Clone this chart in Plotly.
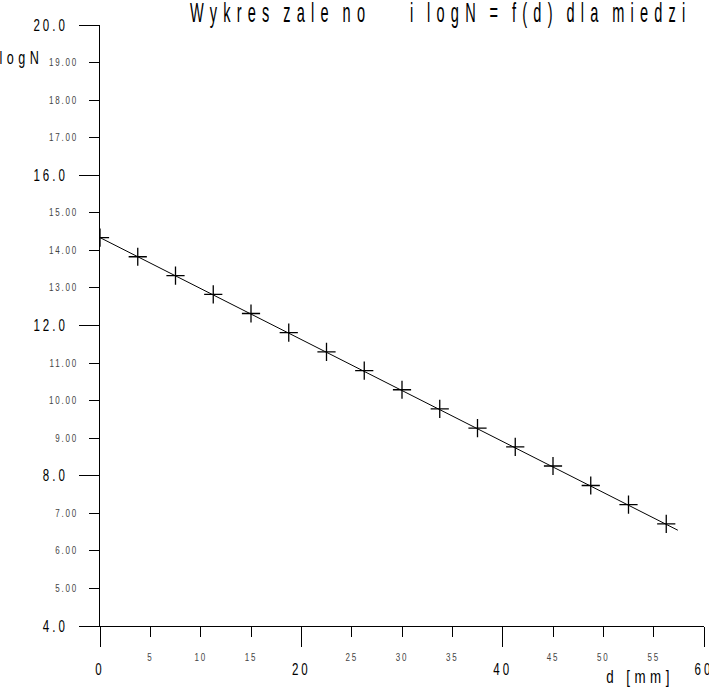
import plotly.graph_objects as go

# measured points: d [mm] vs log N
d_mm = [0, 3.75, 7.5, 11.25, 15, 18.75, 22.5, 26.25, 30, 33.75, 37.5, 41.25, 45, 48.75, 52.5, 56.25]
log_n = [14.34, 13.83, 13.33, 12.83, 12.32, 11.81, 11.30, 10.80, 10.29, 9.78, 9.27, 8.77, 8.26, 7.74, 7.23, 6.72]

# fitted straight line
fit_d = [0, 57.4]
fit_log_n = [14.34, 6.55]

x_major = [0, 20, 40, 60]
x_minor = [5, 10, 15, 25, 30, 35, 45, 50, 55]
y_major = [4, 8, 12, 16, 20]
y_minor = [5, 6, 7, 9, 10, 11, 13, 14, 15, 17, 18, 19]

title_text = "Wykres zale no     i logN = f(d) dla miedzi"

FONT = "Liberation Sans, Arial, sans-serif"

fig = go.Figure()

fig.add_trace(go.Scatter(
    x=fit_d, y=fit_log_n,
    mode="lines",
    line=dict(color="black", width=1),
    xaxis="x", yaxis="y",
    showlegend=False,
))

fig.add_trace(go.Scatter(
    x=d_mm, y=log_n,
    mode="markers",
    marker=dict(symbol="cross-thin", size=13, line=dict(color="black", width=1.3)),
    xaxis="x2", yaxis="y2",
    showlegend=False,
))

axis_common = dict(
    showgrid=False, zeroline=False,
    ticks="outside", tickcolor="black", tickwidth=1,
    fixedrange=True,
)

fig.update_layout(
    width=709, height=692,
    margin=dict(l=100, r=5, t=25, b=66, autoexpand=False),
    paper_bgcolor="white", plot_bgcolor="white",
    font=dict(family=FONT, color="black"),
    title=dict(
        text=title_text,
        xref="container", x=190 / 709, xanchor="left",
        yref="container", y=1 - 2 / 692, yanchor="top",
        font=dict(family=FONT, size=28, color="black"),
    ),
    xaxis=dict(
        range=[0, 60], tickvals=x_major, ticklen=20, ticklabelstandoff=9,
        ticklabeloverflow="allow",
        showline=True, linecolor="black", linewidth=1,
        tickfont=dict(family=FONT, size=16, color="black"),
        **axis_common,
    ),
    xaxis2=dict(
        range=[0, 60], tickvals=x_minor, ticklen=10, ticklabelstandoff=12,
        ticklabeloverflow="allow",
        overlaying="x", anchor="y2", side="bottom",
        showline=False,
        tickfont=dict(family=FONT, size=10, color="#444444"),
        **axis_common,
    ),
    yaxis=dict(
        range=[4, 20], tickvals=y_major, ticklen=20, tickformat=".1f", ticklabelstandoff=8,
        showline=True, linecolor="black", linewidth=1,
        tickfont=dict(family=FONT, size=16, color="black"),
        **axis_common,
    ),
    yaxis2=dict(
        range=[4, 20], tickvals=y_minor, ticklen=10, tickformat=".2f", ticklabelstandoff=9,
        overlaying="y", anchor="x2", side="left",
        showline=False,
        tickfont=dict(family=FONT, size=10, color="#444444"),
        **axis_common,
    ),
    annotations=[
        dict(
            text="logN", xref="paper", yref="paper",
            x=(21 - 100) / 604, xanchor="center", y=(626 - 58) / 601, yanchor="middle",
            showarrow=False, font=dict(family=FONT, size=18, color="black"),
        ),
        dict(
            text="d [mm]", xref="paper", yref="paper",
            x=(640 - 100) / 604, xanchor="center", y=-(676 - 626) / 601, yanchor="middle",
            showarrow=False, font=dict(family=FONT, size=19, color="black"),
        ),
    ],
)

# narrow, widely spaced lettering of the original:
# space the letters out, then squeeze the whole run to k times its width
post = """
document.body.style.margin = '0';
var gd = document.getElementById('{plot_id}');
function squeeze(sel, k, gap, word) {
  gd.querySelectorAll(sel).forEach(function (t) {
    t.style.letterSpacing = (gap / k) + 'px';
    if (word !== undefined) { t.style.wordSpacing = (word / k) + 'px'; }
    var w = t.getComputedTextLength();
    t.setAttribute('lengthAdjust', 'spacingAndGlyphs');
    t.setAttribute('textLength', (w * k).toFixed(2));
  });
}
squeeze('.gtitle', 0.52, 6.2, -2.5);
squeeze('.xtick text', 0.72, 3);
squeeze('.ytick text', 0.72, 3);
squeeze('.x2tick text', 0.8, 1.8);
squeeze('.y2tick text', 0.8, 1.8);
squeeze('.annotation-text', 0.7, 4.5);
"""

fig.write_html("out.html", post_script=post, config={"displayModeBar": False})
